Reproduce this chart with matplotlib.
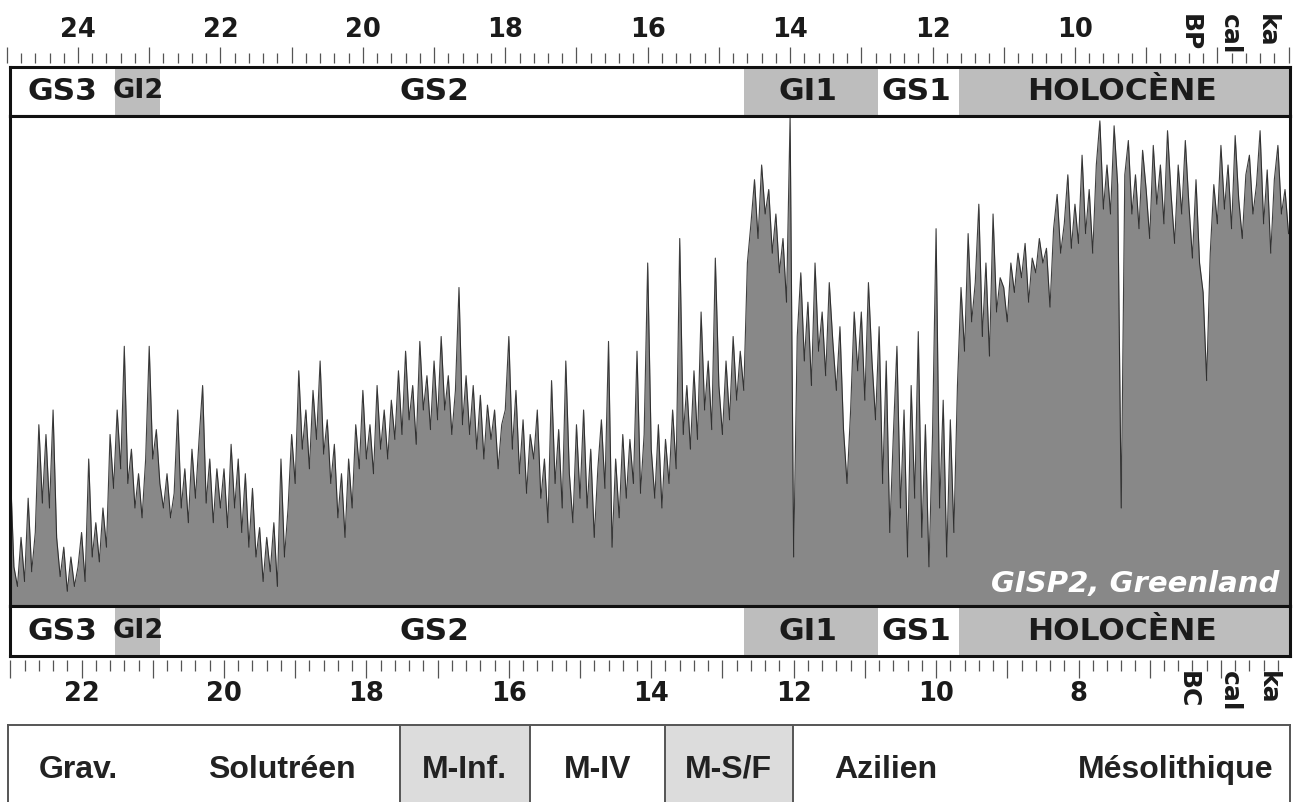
import matplotlib
matplotlib.use("Agg")
import matplotlib.pyplot as plt
import numpy as np
from matplotlib.ticker import MultipleLocator, FixedLocator

plt.rcParams['font.family'] = ['DejaVu Sans']

# ---------------- data ----------------
age_start = 25.0      # ka cal BP
age_step = 0.05       # ka
d18o = [
    # 25.00 - 24.05
    -42.0, -41.2, -43.2, -43.6, -42.6, -43.5, -41.8, -43.3, -42.5, -40.3,
    -41.9, -40.5, -42.0, -40.0, -42.6, -43.4, -42.8, -43.7, -43.0, -43.6,
    # 24.00 - 23.05
    -43.2, -42.5, -43.5, -41.0, -43.0, -42.3, -43.1, -42.0, -42.8, -40.5,
    -41.6, -40.0, -41.2, -38.7, -41.5, -40.8, -42.0, -41.3, -42.2, -41.0,
    # 23.00 - 22.05
    -38.7, -41.0, -40.4, -41.5, -42.0, -41.3, -42.2, -41.7, -40.0, -42.0,
    -41.2, -42.3, -40.8, -41.8, -40.6, -39.5, -41.9, -41.0, -42.3, -41.2,
    # 22.00 - 21.05
    -42.0, -41.2, -42.4, -40.7, -42.0, -41.0, -42.5, -41.3, -42.8, -41.6,
    -43.0, -42.4, -43.5, -42.6, -43.3, -42.3, -43.6, -41.0, -43.0, -42.0,
    # 21.00 - 20.05
    -40.5, -41.5, -39.2, -40.8, -40.0, -41.2, -39.6, -40.6, -39.0, -40.9,
    -40.2, -41.5, -40.7, -42.2, -41.3, -42.6, -41.0, -42.0, -40.3, -41.2,
    # 20.00 - 19.05
    -39.6, -41.0, -40.3, -41.3, -39.5, -40.8, -40.0, -41.0, -39.8, -40.6,
    -39.2, -40.5, -38.8, -40.2, -39.5, -40.7, -38.6, -40.0, -39.3, -40.4,
    # 19.00 - 18.05
    -39.0, -40.2, -38.5, -40.0, -39.3, -40.5, -39.6, -37.5, -40.3, -39.3,
    -40.5, -39.5, -40.8, -39.7, -41.0, -39.9, -40.6, -40.0, -41.2, -40.3,
    # 18.00 - 17.05
    -40.0, -38.5, -40.8, -39.6, -41.3, -40.2, -41.7, -40.5, -41.0, -40.0,
    -41.8, -41.0, -42.3, -39.4, -41.5, -40.4, -42.0, -39.0, -41.3, -42.3,
    # 17.00 - 16.05
    -40.3, -41.8, -40.0, -42.0, -40.8, -42.6, -41.2, -40.2, -41.6, -38.6,
    -42.8, -41.0, -42.2, -40.5, -41.8, -40.6, -41.5, -38.8, -41.7, -40.5,
    # 16.00 - 15.05
    -37.0, -40.8, -41.8, -40.3, -42.0, -40.6, -41.5, -40.0, -41.2, -36.5,
    -40.5, -39.5, -40.8, -39.2, -40.6, -38.0, -40.0, -39.0, -40.4, -36.9,
    # 15.00 - 14.05
    -39.5, -40.5, -39.0, -40.2, -38.5, -39.8, -38.8, -39.6, -37.0, -36.2,
    -35.3, -36.5, -35.0, -36.0, -35.5, -36.8, -36.0, -37.2, -36.5, -37.8,
    # 14.00 - 13.05
    -34.0, -43.0, -38.5, -37.2, -39.0, -37.8, -39.5, -37.0, -38.8, -38.0,
    -39.3, -37.4, -38.6, -39.6, -38.3, -40.4, -41.5, -40.0, -38.0, -39.2,
    # 13.00 - 12.05
    -38.0, -39.8, -37.4, -39.0, -40.2, -38.3, -41.5, -39.0, -42.5, -40.5,
    -38.7, -42.0, -40.0, -43.0, -39.5, -41.8, -38.4, -42.6, -40.3, -43.2,
    # 12.00 - 11.05
    -40.5, -36.3, -42.0, -39.8, -43.0, -40.2, -42.5, -39.5, -37.5, -38.8,
    -36.4, -38.2, -37.4, -35.8, -38.5, -37.0, -38.9, -36.0, -38.0, -37.3,
    # 11.00 - 10.05
    -37.5, -38.2, -37.0, -37.6, -36.8, -37.3, -36.6, -37.8, -36.9, -37.2,
    -36.5, -37.0, -36.7, -37.9, -36.3, -35.6, -36.8, -36.2, -35.2, -36.7,
    # 10.00 - 9.05
    -35.8, -36.6, -34.8, -36.4, -35.5, -36.8, -35.0, -34.1, -35.9, -35.0,
    -36.0, -34.2, -35.4, -42.0, -35.2, -34.5, -36.0, -35.2, -36.3, -34.7,
    # 9.00 - 8.05
    -35.5, -36.5, -34.6, -35.8, -35.0, -36.2, -34.3, -35.6, -36.6, -35.0,
    -36.0, -34.5, -35.8, -36.9, -35.3, -37.0, -37.6, -39.4, -36.8, -35.4,
    # 8.00 - 7.05
    -36.2, -34.6, -35.9, -35.0, -36.3, -34.4, -35.7, -36.5, -35.2, -34.8,
    -36.0, -35.4, -34.3, -36.2, -35.1, -36.8, -35.3, -34.6, -36.0, -35.5,
    # 7.00
    -36.4,
]
ages = age_start - age_step * np.arange(len(d18o))

stage_names = ['GS3', 'GI2', 'GS2', 'GI1', 'GS1', 'HOLOCÈNE']
stage_start = [25.2, 23.48, 22.85, 14.65, 12.76, 11.63]
stage_end = [23.48, 22.85, 14.65, 12.76, 11.63, 6.8]
stage_warm = [False, True, False, True, False, True]
stage_label_age = [24.22, 23.16, 18.99, 13.75, 12.22, 9.34]

culture_names = ['Grav.', 'Solutréen', 'M-Inf.', 'M-IV', 'M-S/F', 'Azilien', 'Mésolithique']
culture_start = [25.2, 22.9, 19.48, 17.65, 15.76, 13.96, 11.0]
culture_end = [22.9, 19.48, 17.65, 15.76, 13.96, 11.0, 6.8]
culture_shaded = [False, False, True, False, True, False, False]
culture_label_age = [24.0, 21.14, 18.57, 16.70, 14.87, 12.65, 8.58]
culture_dividers = [19.48, 17.65, 15.76, 13.96]

bp_major = list(range(7, 26))
bp_labels = [str(v) if (v % 2 == 0 and 10 <= v <= 24) else '' for v in bp_major]
bc_offset = 1.95
bc_major = list(range(5, 24))
bc_labels = [str(v) if (v % 2 == 0 and 8 <= v <= 22) else '' for v in bc_major]

# ---------------- layout ----------------
W, H = 1293, 802
fig = plt.figure(figsize=(W / 100, H / 100), dpi=100)
fig.patch.set_facecolor('white')

def rect(x0, y0, x1, y1):
    return [x0 / W, 1 - y1 / H, (x1 - x0) / W, (y1 - y0) / H]

PX_PER_KA = 71.21
def bp(x):
    return 24 - (x - 78) / PX_PER_KA

FL, FR = 10, 1290
BAND_GRAY = '#bdbdbd'
FRAME_LW = 2.2
TXT = '#1a1a1a'
STAGE_FONT = {'GI2': 19.5}

def frame(ax, lw=FRAME_LW, color='#111111'):
    for s in ax.spines.values():
        s.set_linewidth(lw)
        s.set_color(color)
    ax.set_xticks([])
    ax.set_yticks([])

# top tick axis (BP)
axt = fig.add_axes(rect(5, 47, 1292, 63))
axt.set_xlim(bp(5), bp(1292))
axt.set_ylim(0, 1)
axt.patch.set_visible(False)
for s in axt.spines.values():
    s.set_visible(False)
axt.set_yticks([])
axt.xaxis.set_major_locator(FixedLocator(bp_major))
axt.set_xticklabels(bp_labels)
axt.xaxis.set_minor_locator(MultipleLocator(0.2))
axt.tick_params(axis='x', which='both', direction='in', bottom=True, top=False,
                labelbottom=False, labeltop=True, color='#555555', width=0.9)
axt.tick_params(axis='x', which='major', length=11.5, pad=3, labelsize=18.5,
                labelcolor=TXT)
axt.tick_params(axis='x', which='minor', length=7.2)
for t in axt.get_xticklabels():
    t.set_fontweight('bold')

# stage band helper
def stage_band(y0, y1):
    ax = fig.add_axes(rect(FL, y0, FR, y1))
    ax.set_xlim(bp(FL), bp(FR))
    ax.set_ylim(0, 1)
    for s0, s1, warm in zip(stage_start, stage_end, stage_warm):
        if warm:
            ax.axvspan(s0, s1, color=BAND_GRAY, lw=0)
    for name, xa in zip(stage_names, stage_label_age):
        ax.text(xa, 0.5, name, ha='center', va='center',
                fontsize=STAGE_FONT.get(name, 22.5),
                fontweight='bold', color=TXT)
    frame(ax)
    return ax

stage_band(67, 116)

# data panel
ax = fig.add_axes(rect(FL, 116, FR, 606))
ax.set_xlim(bp(FL), bp(FR))
ax.set_ylim(-44, -34)
ax.fill_between(ages, d18o, -44, color='#888888', lw=0)
ax.plot(ages, d18o, color='#1e1e1e', lw=0.8, alpha=0.85)
ax.text(bp(1279), -43.55, 'GISP2, Greenland', ha='right', va='center',
        fontsize=21, fontweight='bold', fontstyle='italic', color='white')
frame(ax)

stage_band(606, 656)

# bottom tick axis (BC)
axb = fig.add_axes(rect(5, 660, 1292, 678))
axb.set_xlim(bp(5) - bc_offset, bp(1292) - bc_offset)
axb.set_ylim(0, 1)
axb.patch.set_visible(False)
for s in axb.spines.values():
    s.set_visible(False)
axb.set_yticks([])
axb.xaxis.set_major_locator(FixedLocator(bc_major))
axb.set_xticklabels(bc_labels)
axb.xaxis.set_minor_locator(MultipleLocator(0.2))
axb.tick_params(axis='x', which='both', direction='in', bottom=False, top=True,
                labelbottom=True, labeltop=False, color='#555555', width=0.9)
axb.tick_params(axis='x', which='major', length=13, pad=2, labelsize=18.5,
                labelcolor=TXT)
axb.tick_params(axis='x', which='minor', length=8)
for t in axb.get_xticklabels():
    t.set_fontweight('bold')

# unit labels
for txt, x in [('BP', 1190), ('cal', 1230), ('ka', 1267)]:
    fig.text(x / W, 1 - 14 / H, txt, rotation=-90, ha='center', va='top',
             fontsize=18, fontweight='bold', color=TXT)
for txt, x in [('BC', 1188), ('cal', 1230), ('ka', 1268)]:
    fig.text(x / W, 1 - 671 / H, txt, rotation=-90, ha='center', va='top',
             fontsize=18, fontweight='bold', color=TXT)

# culture band
axc = fig.add_axes(rect(8, 725, 1290, 815))
axc.set_xlim(bp(8), bp(1290))
axc.set_ylim(0, 1)
for c0, c1, sh in zip(culture_start, culture_end, culture_shaded):
    if sh:
        axc.axvspan(c0, c1, color='#dcdcdc', lw=0)
for xd in culture_dividers:
    axc.axvline(xd, color='#555555', lw=1.4)
for name, xa in zip(culture_names, culture_label_age):
    axc.text(xa, 0.5, name, ha='center', va='center', fontsize=23,
             fontweight='bold', color='#222222', family=['Liberation Sans'])
frame(axc, lw=1.4, color='#555555')

fig.savefig('out.png', dpi=100, facecolor='white')
